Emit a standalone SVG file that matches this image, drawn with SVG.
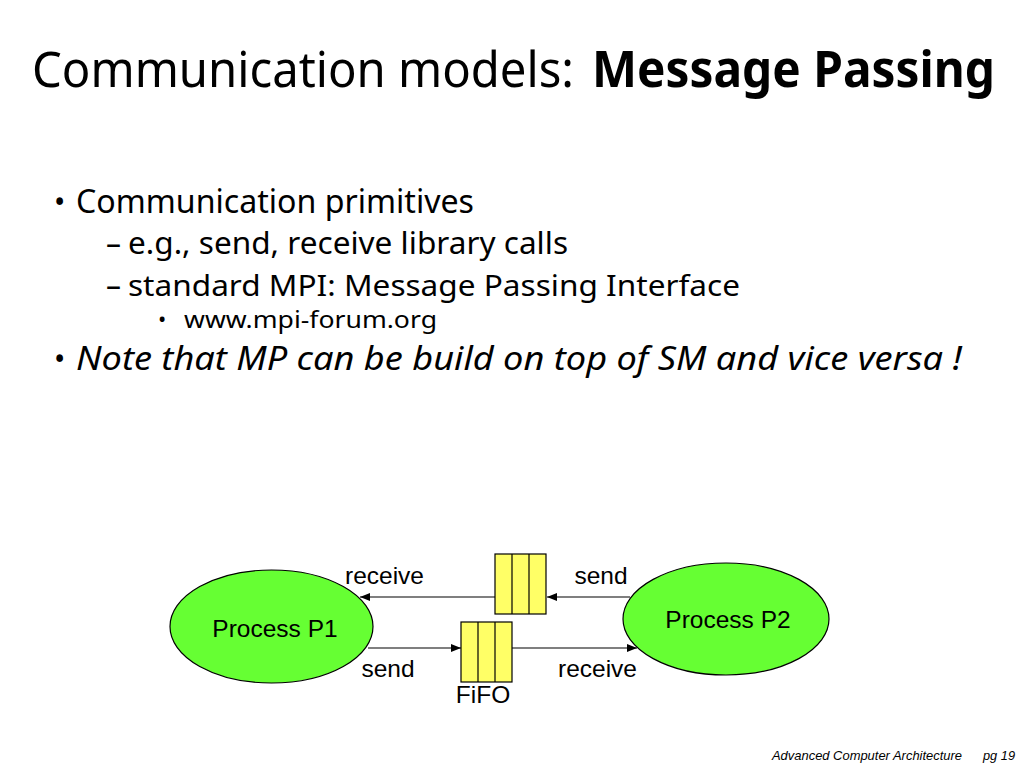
<svg xmlns="http://www.w3.org/2000/svg" width="1024" height="768" viewBox="0 0 1024 768">
<defs>
<style>
.slide{font-family:"Noto Sans","Open Sans","DejaVu Sans",sans-serif;fill:#000}
.lbl{font-family:"Liberation Sans",Arial,sans-serif;font-size:24.5px;fill:#000}
.foot{font-family:"Liberation Sans",Arial,sans-serif;font-size:13px;font-style:italic;fill:#000}
.proc{fill:#66ff33;stroke:#000;stroke-width:1.2}
.fifo{fill:#ffff66;stroke:#000;stroke-width:1.2}
.conn{stroke:#000;stroke-width:1.2;fill:none}
</style>
<marker id="ah" viewBox="0 0 10 10" refX="10" refY="5" markerWidth="10" markerHeight="10" markerUnits="userSpaceOnUse" orient="auto">
<path d="M0,1 L10,5 L0,9 z" fill="#000"/>
</marker>
</defs>
<rect width="1024" height="768" fill="#fff"/>

<g id="title">
<text class="slide" x="32" y="87" font-size="50" textLength="542" lengthAdjust="spacingAndGlyphs">Communication models:</text>
<text class="slide" x="592" y="87" font-size="50" font-weight="bold" textLength="403" lengthAdjust="spacingAndGlyphs">Message Passing</text>
</g>

<g id="bullets">
<text class="slide" x="54" y="213" font-size="30">•</text>
<text class="slide" x="76" y="213" font-size="32" textLength="398" lengthAdjust="spacingAndGlyphs">Communication primitives</text>
<text class="slide" x="106" y="254" font-size="30">–</text>
<text class="slide" x="128" y="254" font-size="30" textLength="440" lengthAdjust="spacingAndGlyphs">e.g., send, receive library calls</text>
<text class="slide" x="106" y="296" font-size="30">–</text>
<text class="slide" x="128" y="296" font-size="29" textLength="612" lengthAdjust="spacingAndGlyphs">standard MPI: Message Passing Interface</text>
<text class="slide" x="158" y="327" font-size="22">•</text>
<text class="slide" x="184" y="328" font-size="23" textLength="253" lengthAdjust="spacingAndGlyphs">www.mpi-forum.org</text>
<text class="slide" x="54" y="370" font-size="30">•</text>
<text class="slide" x="76" y="370" font-size="32" font-style="italic" textLength="886" lengthAdjust="spacingAndGlyphs">Note that MP can be build on top of SM and vice versa !</text>
</g>

<g id="connectors">
<line class="conn" x1="495" y1="597" x2="360" y2="597" marker-end="url(#ah)"/>
<line class="conn" x1="630" y1="597" x2="547" y2="597" marker-end="url(#ah)"/>
<line class="conn" x1="368" y1="648" x2="461" y2="648" marker-end="url(#ah)"/>
<line class="conn" x1="512" y1="648" x2="637" y2="648" marker-end="url(#ah)"/>
</g>

<g id="p1">
<ellipse class="proc" cx="271.5" cy="626.5" rx="101.5" ry="56.5"/>
<text class="lbl" x="275" y="637" text-anchor="middle">Process P1</text>
</g>
<g id="p2">
<ellipse class="proc" cx="726" cy="619" rx="103" ry="56"/>
<text class="lbl" x="728" y="628" text-anchor="middle">Process P2</text>
</g>

<g id="fifo-top">
<rect class="fifo" x="495" y="554" width="51" height="60"/>
<line class="conn" x1="512" y1="554" x2="512" y2="614"/>
<line class="conn" x1="529" y1="554" x2="529" y2="614"/>
</g>
<g id="fifo-bottom">
<rect class="fifo" x="461" y="622" width="51" height="60"/>
<line class="conn" x1="478" y1="622" x2="478" y2="682"/>
<line class="conn" x1="495" y1="622" x2="495" y2="682"/>
</g>

<g id="labels">
<text class="lbl" x="384.5" y="584" text-anchor="middle">receive</text>
<text class="lbl" x="601" y="584" text-anchor="middle">send</text>
<text class="lbl" x="388" y="677" text-anchor="middle">send</text>
<text class="lbl" x="597.5" y="677" text-anchor="middle">receive</text>
<text class="lbl" x="483" y="703" text-anchor="middle">FiFO</text>
</g>

<g id="footer">
<text class="foot" x="772" y="760" textLength="190" lengthAdjust="spacingAndGlyphs">Advanced Computer Architecture</text>
<text class="foot" x="983" y="760" textLength="32" lengthAdjust="spacingAndGlyphs">pg 19</text>
</g>
</svg>
